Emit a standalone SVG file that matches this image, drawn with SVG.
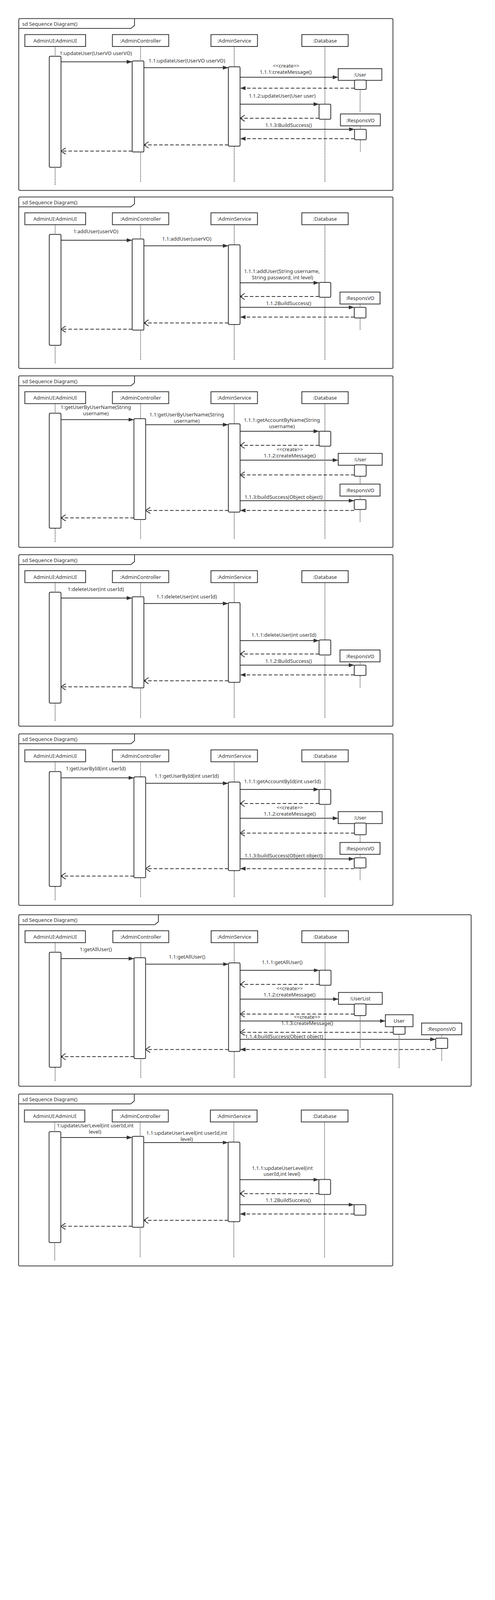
<svg xmlns="http://www.w3.org/2000/svg" width="1266" height="4307" viewBox="0 0 1266 4307">
<style>
.frame{fill:none;stroke:#3a3a3a;stroke-width:2}
.head{fill:#fff;stroke:#333;stroke-width:2}
.bar{fill:#fff;stroke:#333;stroke-width:2}
.life{stroke:#333;stroke-width:1.8;stroke-dasharray:2 2;fill:none}
.msg{stroke:#333;stroke-width:2;fill:none;marker-end:url(#af)}
.rf{stroke:#333;stroke-width:2;stroke-dasharray:9 5;fill:none;marker-end:url(#af)}
.ro{stroke:#333;stroke-width:2;stroke-dasharray:9 5;fill:none;marker-end:url(#ao)}
text{font-family:"Noto Sans","Liberation Sans",sans-serif;font-size:13px;fill:#333}
.c{text-anchor:middle}
</style>
<defs>
<marker id="af" viewBox="0 0 14 10" refX="14" refY="5" markerWidth="14" markerHeight="10" markerUnits="userSpaceOnUse" orient="auto"><path d="M0,0 L14,5 L0,10 z" fill="#333"/></marker>
<marker id="ao" viewBox="0 0 14 18" refX="13" refY="9" markerWidth="14" markerHeight="18" markerUnits="userSpaceOnUse" orient="auto"><path d="M1,1 L13,9 L1,17" fill="none" stroke="#333" stroke-width="2"/></marker>
</defs>
<rect width="1266" height="4307" fill="#fff"/>

<!-- Frame 1 -->
<g id="frame1" transform="translate(0,47.5)">
<rect class="frame" x="48" y="0" width="957" height="440" rx="3"/>
<path class="frame" d="M48,25.2 H335 L344,17.5 V0"/>
<text x="57" y="18.5">sd Sequence Diagram()</text>
<g id="f1-ui"><line class="life" x1="141" y1="71.5" x2="141" y2="427.5"/><rect class="head" x="63.5" y="41" width="155.5" height="30.5"/><text class="c" x="141" y="61.5">AdminUI:AdminUI</text><rect class="bar" x="126" y="96.5" width="30" height="284.3" rx="3"/></g>
<g id="f1-ctrl"><line class="life" x1="359.5" y1="71.5" x2="359.5" y2="418.5"/><rect class="head" x="287.5" y="41" width="144" height="30.5"/><text class="c" x="359.5" y="61.5">:AdminController</text><rect class="bar" x="338" y="108.5" width="30" height="233" rx="3"/></g>
<g id="f1-svc"><line class="life" x1="599" y1="71.5" x2="599" y2="418.5"/><rect class="head" x="539.5" y="41" width="119" height="30.5"/><text class="c" x="599" y="61.5">:AdminService</text><rect class="bar" x="584" y="123.5" width="30" height="203.3" rx="3"/></g>
<g id="f1-db"><line class="life" x1="831" y1="71.5" x2="831" y2="418.5"/><rect class="head" x="772" y="41" width="118.5" height="30.5"/><text class="c" x="831" y="61.5">:Database</text><rect class="bar" x="816" y="219.2" width="30" height="38.6" rx="3"/></g>
<g id="f1-user"><line class="life" x1="921" y1="181.5" x2="921" y2="240.5"/><rect class="head" x="865" y="128.2" width="111.5" height="30"/><text class="c" x="920.7" y="148.7">:User</text><rect class="bar" x="906.7" y="157.5" width="30" height="24" rx="3"/></g>
<g id="f1-resp"><line class="life" x1="921.7" y1="274.8" x2="921.7" y2="340.5"/><rect class="head" x="870.7" y="244.2" width="102" height="30.5"/><text class="c" x="921.7" y="265">:ResponsVO</text><rect class="bar" x="906.7" y="283.5" width="30" height="26.7" rx="3"/></g>
<g id="f1-conn">
<line class="msg" x1="156" y1="110.8" x2="338" y2="110.8"/><text class="c" x="245" y="93.5">1:updateUser(UserVO userVO)</text>
<line class="msg" x1="368" y1="125.8" x2="584" y2="125.8"/><text class="c" x="478" y="112.5">1.1:updateUser(UserVO userVO)</text>
<line class="msg" x1="614" y1="150.2" x2="865" y2="150.2"/><text class="c" x="731.7" y="125.2">&lt;&lt;create&gt;&gt;</text><text class="c" x="730.7" y="141.8">1.1.1:createMessage()</text>
<line class="rf" x1="906.7" y1="178.2" x2="614" y2="178.2"/>
<line class="msg" x1="614" y1="219.2" x2="816" y2="219.2"/><text class="c" x="721.7" y="202.5">1.1.2:updateUser(User user)</text>
<line class="ro" x1="816" y1="255.2" x2="614" y2="255.2"/>
<line class="msg" x1="614" y1="283.5" x2="906.7" y2="283.5"/><text class="c" x="738" y="277.5">1.1.3:BuildSuccess()</text>
<line class="rf" x1="906.7" y1="307.5" x2="614" y2="307.5"/>
<line class="ro" x1="584" y1="323.5" x2="368" y2="323.5"/>
<line class="ro" x1="338" y1="339.2" x2="156" y2="339.2"/>
</g>
</g>

<!-- Frame 2 -->
<g id="frame2" transform="translate(0,504.3)">
<rect class="frame" x="48" y="0" width="957" height="439" rx="3"/>
<path class="frame" d="M48,25.2 H335 L344,17.5 V0"/>
<text x="57" y="18.5">sd Sequence Diagram()</text>
<g id="f2-ui"><line class="life" x1="141" y1="71" x2="141" y2="427.5"/><rect class="head" x="63.5" y="40.5" width="155.5" height="30.5"/><text class="c" x="141" y="61">AdminUI:AdminUI</text><rect class="bar" x="126" y="95.7" width="30" height="284" rx="3"/></g>
<g id="f2-ctrl"><line class="life" x1="359.5" y1="71" x2="359.5" y2="418.5"/><rect class="head" x="287.5" y="40.5" width="144" height="30.5"/><text class="c" x="359.5" y="61">:AdminController</text><rect class="bar" x="338" y="107.4" width="30" height="233.3" rx="3"/></g>
<g id="f2-svc"><line class="life" x1="599" y1="71" x2="599" y2="418.5"/><rect class="head" x="539.5" y="40.5" width="119" height="30.5"/><text class="c" x="599" y="61">:AdminService</text><rect class="bar" x="584" y="122.4" width="30" height="204" rx="3"/></g>
<g id="f2-db"><line class="life" x1="831" y1="71" x2="831" y2="418.5"/><rect class="head" x="772" y="40.5" width="118.5" height="30.5"/><text class="c" x="831" y="61">:Database</text><rect class="bar" x="816" y="218.7" width="30" height="38" rx="3"/></g>
<g id="f2-resp"><line class="life" x1="921" y1="274" x2="921" y2="340"/><rect class="head" x="869.5" y="243.4" width="102.5" height="30.6"/><text class="c" x="921" y="264">:ResponsVO</text><rect class="bar" x="906" y="282.4" width="30" height="27.3" rx="3"/></g>
<g id="f2-conn">
<line class="msg" x1="156" y1="110.7" x2="338" y2="110.7"/><text class="c" x="245" y="92.5">1:addUser(userVO)</text>
<line class="msg" x1="368" y1="125" x2="584" y2="125"/><text class="c" x="477.5" y="111.5">1.1:addUser(userVO)</text>
<line class="msg" x1="614" y1="219.7" x2="816" y2="219.7"/><text class="c" x="721" y="195">1.1.1:addUser(String username,</text><text class="c" x="722.5" y="210.5">String password, int level)</text>
<line class="ro" x1="816" y1="254.7" x2="614" y2="254.7"/>
<line class="msg" x1="614" y1="282.4" x2="906" y2="282.4"/><text class="c" x="738" y="276.5">1.1.2BuildSuccess()</text>
<line class="rf" x1="906" y1="307.4" x2="614" y2="307.4"/>
<line class="ro" x1="584" y1="322.4" x2="368" y2="322.4"/>
<line class="ro" x1="338" y1="338.4" x2="156" y2="338.4"/>
</g>
</g>

<!-- Frame 3 -->
<g id="frame3" transform="translate(0,962.3)">
<rect class="frame" x="48" y="0" width="957" height="439" rx="3"/>
<path class="frame" d="M48,25.2 H335 L344,17.5 V0"/>
<text x="57" y="18.5">sd Sequence Diagram()</text>
<g id="f3-ui"><line class="life" x1="141" y1="71" x2="141" y2="426"/><rect class="head" x="63.5" y="40.5" width="155.5" height="30.5"/><text class="c" x="141" y="61">AdminUI:AdminUI</text><rect class="bar" x="126" y="95.4" width="30" height="294.6" rx="3"/></g>
<g id="f3-ctrl"><line class="life" x1="359.5" y1="71" x2="359.5" y2="417.7"/><rect class="head" x="287.5" y="40.5" width="144" height="30.5"/><text class="c" x="359.5" y="61">:AdminController</text><rect class="bar" x="342.5" y="109.4" width="30" height="258.3" rx="3"/></g>
<g id="f3-svc"><line class="life" x1="599" y1="71" x2="599" y2="417.7"/><rect class="head" x="539.5" y="40.5" width="119" height="30.5"/><text class="c" x="599" y="61">:AdminService</text><rect class="bar" x="584" y="122.7" width="30" height="226" rx="3"/></g>
<g id="f3-db"><line class="life" x1="831" y1="71" x2="831" y2="417.7"/><rect class="head" x="772" y="40.5" width="118.5" height="30.5"/><text class="c" x="831" y="61">:Database</text><rect class="bar" x="816" y="141.7" width="30" height="38.3" rx="3"/></g>
<g id="f3-user"><line class="life" x1="921" y1="257" x2="921" y2="277"/><rect class="head" x="865" y="198.4" width="112.5" height="30.3"/><text class="c" x="921" y="219">:User</text><rect class="bar" x="906.5" y="227.7" width="30" height="29.3" rx="3"/></g>
<g id="f3-resp"><line class="life" x1="921" y1="307.7" x2="921" y2="374.4"/><rect class="head" x="869.5" y="277" width="102.5" height="30.7"/><text class="c" x="921" y="297.5">:ResponsVO</text><rect class="bar" x="906" y="316.7" width="30" height="25.3" rx="3"/></g>
<g id="f3-conn">
<line class="msg" x1="156" y1="112" x2="342.5" y2="112"/><text class="c" x="245" y="84.5">1:getUserByUserName(String</text><text class="c" x="245" y="100.5">username)</text>
<line class="msg" x1="372.5" y1="125" x2="584" y2="125"/><text class="c" x="477.5" y="103.5">1.1:getUserByUserName(String</text><text class="c" x="477.5" y="119.5">username)</text>
<line class="msg" x1="614" y1="141.7" x2="816" y2="141.7"/><text class="c" x="721" y="118">1.1.1:getAccountByName(String</text><text class="c" x="721" y="133.5">username)</text>
<line class="ro" x1="816" y1="177.7" x2="614" y2="177.7"/>
<line class="msg" x1="614" y1="215.7" x2="865" y2="215.7"/><text class="c" x="741" y="192.5">&lt;&lt;create&gt;&gt;</text><text class="c" x="741" y="208.5">1.1.2:createMessage()</text>
<line class="ro" x1="906.5" y1="253.4" x2="614" y2="253.4"/>
<line class="msg" x1="614" y1="319.4" x2="906" y2="319.4"/><text class="c" x="725.6" y="315">1.1.3:buildSuccess(Object object}</text>
<line class="rf" x1="906" y1="344.4" x2="614" y2="344.4"/>
<line class="ro" x1="584" y1="344.4" x2="372.5" y2="344.4"/>
<line class="ro" x1="342.5" y1="363.4" x2="156" y2="363.4"/>
</g>
</g>

<!-- Frame 4 -->
<g id="frame4" transform="translate(0,1420)">
<rect class="frame" x="48" y="0" width="957" height="439" rx="3"/>
<path class="frame" d="M48,25.2 H335 L344,17.5 V0"/>
<text x="57" y="18.5">sd Sequence Diagram()</text>
<g id="f4-ui"><line class="life" x1="141" y1="71.5" x2="141" y2="426.7"/><rect class="head" x="63.5" y="41" width="155.5" height="30.5"/><text class="c" x="141" y="61.5">AdminUI:AdminUI</text><rect class="bar" x="126" y="96" width="30" height="284" rx="3"/></g>
<g id="f4-ctrl"><line class="life" x1="359.5" y1="71.5" x2="359.5" y2="417.7"/><rect class="head" x="287.5" y="41" width="144" height="30.5"/><text class="c" x="359.5" y="61.5">:AdminController</text><rect class="bar" x="338" y="107.7" width="30" height="233.3" rx="3"/></g>
<g id="f4-svc"><line class="life" x1="599" y1="71.5" x2="599" y2="417.7"/><rect class="head" x="539.5" y="41" width="119" height="30.5"/><text class="c" x="599" y="61.5">:AdminService</text><rect class="bar" x="584" y="122.7" width="30" height="204" rx="3"/></g>
<g id="f4-db"><line class="life" x1="831" y1="71.5" x2="831" y2="417.7"/><rect class="head" x="772" y="41" width="118.5" height="30.5"/><text class="c" x="831" y="61.5">:Database</text><rect class="bar" x="816" y="218.3" width="30" height="38.4" rx="3"/></g>
<g id="f4-resp"><line class="life" x1="921" y1="274.3" x2="921" y2="341"/><rect class="head" x="869.5" y="244" width="102.5" height="30.3"/><text class="c" x="921" y="264.5">:ResponsVO</text><rect class="bar" x="906" y="282.7" width="30" height="26.6" rx="3"/></g>
<g id="f4-conn">
<line class="msg" x1="156" y1="111" x2="338" y2="111"/><text class="c" x="245" y="93">1:deleteUser(int userId)</text>
<line class="msg" x1="368" y1="125" x2="584" y2="125"/><text class="c" x="477.5" y="112">1.1:deleteUser(int userId)</text>
<line class="msg" x1="614" y1="220" x2="816" y2="220"/><text class="c" x="726" y="210">1.1.1:deleteUser(int userId)</text>
<line class="ro" x1="816" y1="254.3" x2="614" y2="254.3"/>
<line class="msg" x1="614" y1="282.7" x2="906" y2="282.7"/><text class="c" x="738" y="276.5">1.1.2:BuildSuccess()</text>
<line class="rf" x1="906" y1="307.7" x2="614" y2="307.7"/>
<line class="ro" x1="584" y1="322.7" x2="368" y2="322.7"/>
<line class="ro" x1="338" y1="338.3" x2="156" y2="338.3"/>
</g>
</g>

<!-- Frame 5 -->
<g id="frame5" transform="translate(0,1878.7)">
<rect class="frame" x="48" y="0" width="957" height="439" rx="3"/>
<path class="frame" d="M48,25.2 H335 L344,17.5 V0"/>
<text x="57" y="18.5">sd Sequence Diagram()</text>
<g id="f5-ui"><line class="life" x1="141" y1="71.5" x2="141" y2="426.6"/><rect class="head" x="63.5" y="41" width="155.5" height="30.5"/><text class="c" x="141" y="61.5">AdminUI:AdminUI</text><rect class="bar" x="126" y="96.6" width="30" height="294" rx="3"/></g>
<g id="f5-ctrl"><line class="life" x1="359.5" y1="71.5" x2="359.5" y2="418.3"/><rect class="head" x="287.5" y="41" width="144" height="30.5"/><text class="c" x="359.5" y="61.5">:AdminController</text><rect class="bar" x="342.5" y="110" width="30" height="258.3" rx="3"/></g>
<g id="f5-svc"><line class="life" x1="599" y1="71.5" x2="599" y2="418.3"/><rect class="head" x="539.5" y="41" width="119" height="30.5"/><text class="c" x="599" y="61.5">:AdminService</text><rect class="bar" x="584" y="123.3" width="30" height="226.7" rx="3"/></g>
<g id="f5-db"><line class="life" x1="831" y1="71.5" x2="831" y2="418.3"/><rect class="head" x="772" y="41" width="118.5" height="30.5"/><text class="c" x="831" y="61.5">:Database</text><rect class="bar" x="816" y="142.3" width="30" height="38.3" rx="3"/></g>
<g id="f5-user"><line class="life" x1="921" y1="258.3" x2="921" y2="278"/><rect class="head" x="865" y="199" width="112.5" height="30.6"/><text class="c" x="921" y="219.8">:User</text><rect class="bar" x="906.5" y="228.3" width="30" height="30" rx="3"/></g>
<g id="f5-resp"><line class="life" x1="921" y1="308.3" x2="921" y2="375"/><rect class="head" x="869.5" y="278" width="102.5" height="30.3"/><text class="c" x="921" y="298.5">:ResponsVO</text><rect class="bar" x="906" y="317.3" width="30" height="26" rx="3"/></g>
<g id="f5-conn">
<line class="msg" x1="156" y1="112.6" x2="342.5" y2="112.6"/><text class="c" x="245" y="93.5">1:getUserById(int userId)</text>
<line class="msg" x1="372.5" y1="126.6" x2="584" y2="126.6"/><text class="c" x="477.5" y="112.5">1.1:getUserById(int userId)</text>
<line class="msg" x1="614" y1="142.3" x2="816" y2="142.3"/><text class="c" x="722.5" y="126">1.1.1:getAccountById(int userId)</text>
<line class="ro" x1="816" y1="178.3" x2="614" y2="178.3"/>
<line class="msg" x1="614" y1="216" x2="865" y2="216"/><text class="c" x="741" y="193.5">&lt;&lt;create&gt;&gt;</text><text class="c" x="741" y="209">1.1.2:createMessage()</text>
<line class="ro" x1="906.5" y1="254" x2="614" y2="254"/>
<line class="msg" x1="614" y1="320" x2="906" y2="320"/><text class="c" x="725.6" y="316.5">1.1.3:buildSuccess(Object object}</text>
<line class="rf" x1="906" y1="345" x2="614" y2="345"/>
<line class="ro" x1="584" y1="345" x2="372.5" y2="345"/>
<line class="ro" x1="342.5" y1="364" x2="156" y2="364"/>
</g>
</g>

<!-- Frame 6 -->
<g id="frame6" transform="translate(0,2341.7)">
<rect class="frame" x="48" y="0" width="1157" height="439" rx="3"/>
<path class="frame" d="M48,25.6 H396 L405,18 V0"/>
<text x="57" y="18.5">sd Sequence Diagram()</text>
<g id="f6-ui"><line class="life" x1="141" y1="71.5" x2="141" y2="426.3"/><rect class="head" x="64" y="41" width="154.5" height="30.5"/><text class="c" x="141" y="61.5">AdminUI:AdminUI</text><rect class="bar" x="126" y="96" width="30" height="294.6" rx="3"/></g>
<g id="f6-ctrl"><line class="life" x1="360" y1="71.5" x2="360" y2="418.3"/><rect class="head" x="288.5" y="41" width="143" height="30.5"/><text class="c" x="360" y="61.5">:AdminController</text><rect class="bar" x="342.8" y="110" width="29.5" height="258.3" rx="3"/></g>
<g id="f6-svc"><line class="life" x1="599" y1="71.5" x2="599" y2="418.3"/><rect class="head" x="540" y="41" width="119" height="30.5"/><text class="c" x="599" y="61.5">:AdminService</text><rect class="bar" x="584.5" y="123.3" width="29.5" height="226.7" rx="3"/></g>
<g id="f6-db"><line class="life" x1="831.5" y1="71.5" x2="831.5" y2="418.3"/><rect class="head" x="772" y="41" width="119" height="30.5"/><text class="c" x="831.5" y="61.5">:Database</text><rect class="bar" x="816.6" y="142" width="30" height="38.6" rx="3"/></g>
<g id="f6-userlist"><line class="life" x1="921.3" y1="258.3" x2="921.3" y2="341.6"/><rect class="head" x="865.7" y="199" width="112" height="30.3"/><text class="c" x="921.3" y="219.5">:UserList</text><rect class="bar" x="906" y="228.3" width="30" height="30" rx="3"/></g>
<g id="f6-user"><line class="life" x1="1020.7" y1="306" x2="1020.7" y2="393.3"/><rect class="head" x="985.7" y="256" width="70.6" height="30.6"/><text class="c" x="1020.7" y="276.5">User</text><rect class="bar" x="1005.7" y="286.6" width="30.3" height="19.4" rx="3"/></g>
<g id="f6-resp"><line class="life" x1="1129.7" y1="307.3" x2="1129.7" y2="374"/><rect class="head" x="1078.3" y="277.3" width="102.7" height="30"/><text class="c" x="1129.5" y="297.8">:ResponsVO</text><rect class="bar" x="1114.3" y="316" width="30.7" height="26.3" rx="3"/></g>
<g id="f6-conn">
<line class="msg" x1="156" y1="112.3" x2="342.8" y2="112.3"/><text class="c" x="245" y="93.3">1:getAllUser()</text>
<line class="msg" x1="372.3" y1="126.6" x2="584.5" y2="126.6"/><text class="c" x="478.4" y="112.3">1.1:getAllUser()</text>
<line class="msg" x1="614" y1="142.3" x2="816.6" y2="142.3"/><text class="c" x="721.7" y="126.3">1.1.1:getAllUser()</text>
<line class="ro" x1="816.6" y1="178.3" x2="614" y2="178.3"/>
<line class="msg" x1="614" y1="216" x2="865.7" y2="216"/><text class="c" x="740.5" y="193.3">&lt;&lt;create&gt;&gt;</text><text class="c" x="740.5" y="209.3">1.1.2:createMessage()</text>
<line class="ro" x1="906" y1="254.3" x2="614" y2="254.3"/>
<line class="msg" x1="614" y1="272" x2="985.7" y2="272"/><text class="c" x="785.7" y="266.6">&lt;&lt;create&gt;&gt;</text><text class="c" x="785.7" y="282.3">1.1.3:createMessage()</text>
<line class="ro" x1="1005.7" y1="301" x2="614" y2="301"/>
<line class="msg" x1="614" y1="319" x2="1114.3" y2="319"/><text class="c" x="727" y="316.3">1.1.4:buildSuccess(Object object}</text>
<line class="rf" x1="1114.3" y1="345" x2="614" y2="345"/>
<line class="ro" x1="584.5" y1="345" x2="372.3" y2="345"/>
<line class="ro" x1="342.8" y1="363.3" x2="156" y2="363.3"/>
</g>
</g>

<!-- Frame 7 -->
<g id="frame7" transform="translate(0,2800.7)">
<rect class="frame" x="47.5" y="0" width="957" height="440" rx="3"/>
<path class="frame" d="M47.5,25.2 H334.5 L343.5,17.5 V0"/>
<text x="57" y="18.5">sd Sequence Diagram()</text>
<g id="f7-ui"><line class="life" x1="140" y1="71.5" x2="140" y2="426.6"/><rect class="head" x="62.5" y="41" width="154.5" height="30.5"/><text class="c" x="140" y="61.5">AdminUI:AdminUI</text><rect class="bar" x="125.5" y="96.3" width="30" height="284" rx="3"/></g>
<g id="f7-ctrl"><line class="life" x1="358.5" y1="71.5" x2="358.5" y2="417.7"/><rect class="head" x="287" y="41" width="143.5" height="30.5"/><text class="c" x="358.5" y="61.5">:AdminController</text><rect class="bar" x="338" y="108.3" width="29.5" height="232.7" rx="3"/></g>
<g id="f7-svc"><line class="life" x1="598" y1="71.5" x2="598" y2="417.7"/><rect class="head" x="538" y="41" width="119.5" height="30.5"/><text class="c" x="598" y="61.5">:AdminService</text><rect class="bar" x="583.5" y="123" width="30" height="203.7" rx="3"/></g>
<g id="f7-db"><line class="life" x1="830" y1="71.5" x2="830" y2="417.7"/><rect class="head" x="770.6" y="41" width="119.4" height="30.5"/><text class="c" x="830" y="61.5">:Database</text><rect class="bar" x="815.5" y="218.7" width="30" height="38.3" rx="3"/></g>
<g id="f7-resp"><rect class="bar" x="905.6" y="283.3" width="30" height="26.7" rx="3"/></g>
<g id="f7-conn">
<line class="msg" x1="155.5" y1="111.3" x2="338" y2="111.3"/><text class="c" x="243.5" y="85">1:updateUserLevel(int userId,int</text><text class="c" x="243" y="101">level)</text>
<line class="msg" x1="367.5" y1="124.3" x2="583.5" y2="124.3"/><text class="c" x="477.5" y="104">1.1:updateUserLevel(int userId,int</text><text class="c" x="477.5" y="120">level)</text>
<line class="msg" x1="613.5" y1="219.3" x2="815.5" y2="219.3"/><text class="c" x="722" y="194.5">1.1.1:updateUserLevel(int</text><text class="c" x="721" y="209.5">userId,int level)</text>
<line class="ro" x1="815.5" y1="255" x2="613.5" y2="255"/>
<line class="msg" x1="613.5" y1="283.3" x2="905.6" y2="283.3"/><text class="c" x="737" y="276.5">1.1.2BuildSuccess()</text>
<line class="rf" x1="905.6" y1="307" x2="613.5" y2="307"/>
<line class="ro" x1="583.5" y1="323.3" x2="367.5" y2="323.3"/>
<line class="ro" x1="338" y1="338.6" x2="155.5" y2="338.6"/>
</g>
</g>

<text class="c" x="538" y="4231" style="font-family:'Noto Sans CJK SC','Noto Sans',sans-serif">顺序图</text>
</svg>
